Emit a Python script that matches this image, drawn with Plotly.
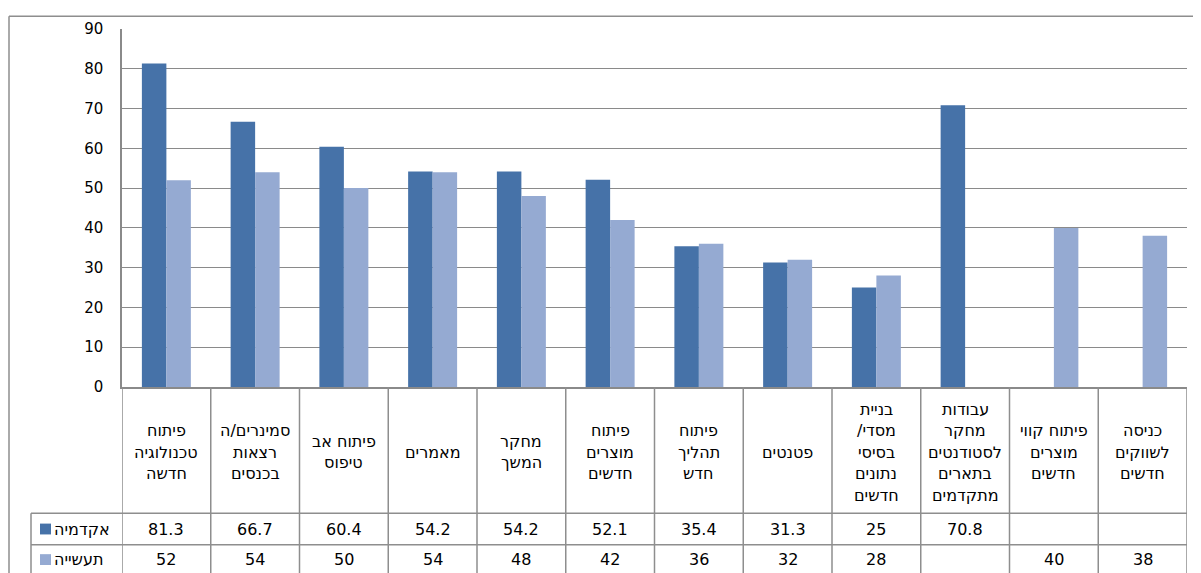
import plotly.graph_objects as go

categories = [
    "פיתוח<br>טכנולוגיה<br>חדשה",
    "סמינרים/ה<br>רצאות<br>בכנסים",
    "פיתוח אב<br>טיפוס",
    "מאמרים",
    "מחקר<br>המשך",
    "פיתוח<br>מוצרים<br>חדשים",
    "פיתוח<br>תהליך<br>חדש",
    "פטנטים",
    "בניית<br>/מסדי<br>בסיסי<br>נתונים<br>חדשים",
    "עבודות<br>מחקר<br>לסטודנטים<br>בתארים<br>מתקדמים",
    "פיתוח קווי<br>מוצרים<br>חדשים",
    "כניסה<br>לשווקים<br>חדשים",
]
series_names = ["אקדמיה", "תעשייה"]
academy = [81.3, 66.7, 60.4, 54.2, 54.2, 52.1, 35.4, 31.3, 25, 70.8, None, None]
industry = [52, 54, 50, 54, 48, 42, 36, 32, 28, None, 40, 38]
y_ticks = [0, 10, 20, 30, 40, 50, 60, 70, 80, 90]

C_DARK = "#4672A8"
C_LIGHT = "#95AAD2"
GRID = "#8A8A8A"
LINE = "#8E8E8E"
FONT = "DejaVu Sans"

# page geometry (the page body has an 8px margin)
OFF = 8
PW, PH = 1201, 573
L, R, T, B = 122, 1187, 24, 387
LABEL_CY, LABEL_LH = 453, 21.8


def px_x(px):
    return (px - L) / (R - L)


def px_y(py):
    return (B - py) / (B - T)


fig = go.Figure()
fig.add_trace(go.Bar(x=categories, y=academy, name=series_names[0],
                     marker=dict(color=C_DARK, line=dict(width=0))))
fig.add_trace(go.Bar(x=categories, y=industry, name=series_names[1],
                     marker=dict(color=C_LIGHT, line=dict(width=0))))

shapes = []
annotations = []

# outer chart border (left and top)
shapes.append(dict(type="line", xref="paper", yref="paper",
                   x0=px_x(9), x1=px_x(9), y0=px_y(11), y1=px_y(600),
                   line=dict(color=LINE, width=1.5)))
shapes.append(dict(type="line", xref="paper", yref="paper",
                   x0=px_x(9), x1=px_x(1230), y0=px_y(11), y1=px_y(11),
                   line=dict(color=LINE, width=1.5)))

# table vertical lines at category boundaries
for i in range(len(categories) + 1):
    shapes.append(dict(type="line", xref="x", yref="paper",
                       x0=i - 0.5, x1=i - 0.5, y0=0, y1=px_y(600),
                       line=dict(color=LINE, width=1.5)))
# legend column left line
shapes.append(dict(type="line", xref="paper", yref="paper",
                   x0=px_x(31), x1=px_x(31), y0=px_y(515), y1=px_y(600),
                   line=dict(color=LINE, width=1.5)))
# row lines
for ry in (515, 547):
    shapes.append(dict(type="line", xref="paper", yref="paper",
                       x0=px_x(31), x1=1, y0=px_y(ry), y1=px_y(ry),
                       line=dict(color=LINE, width=1.5)))

# category labels: one text element per line
for i, c in enumerate(categories):
    lines = c.split("<br>")
    n = len(lines)
    for k, ln in enumerate(lines):
        cy = LABEL_CY + (k - (n - 1) / 2) * LABEL_LH
        annotations.append(dict(x=i, xref="x", y=px_y(cy), yref="paper",
                                text=ln, showarrow=False, xanchor="center",
                                yanchor="middle",
                                font=dict(family=FONT, size=16, color="black")))

# legend keys + value rows
rows = [(academy, C_DARK, 531), (industry, C_LIGHT, 562)]
for (vals, col, cy), name in zip(rows, series_names):
    shapes.append(dict(type="rect", xref="paper", yref="paper",
                       x0=px_x(40), x1=px_x(51), y0=px_y(cy - 5.5), y1=px_y(cy + 5.5),
                       fillcolor=col, line=dict(width=0)))
    annotations.append(dict(x=px_x(52), xref="paper", y=px_y(cy), yref="paper",
                            text=name, showarrow=False, xanchor="left", yanchor="middle",
                            font=dict(family=FONT, size=16, color="black")))
    for i, v in enumerate(vals):
        if v is None:
            continue
        annotations.append(dict(x=i, xref="x", y=px_y(cy), yref="paper",
                                text=f"{v:g}", showarrow=False, xanchor="center",
                                yanchor="middle",
                                font=dict(family=FONT, size=16, color="black")))

fig.update_layout(
    width=PW - OFF, height=PH - OFF,
    margin=dict(l=L - OFF, r=PW - R, t=T - OFF, b=PH - B, pad=0),
    paper_bgcolor="white", plot_bgcolor="white",
    barmode="group", bargap=0.448, bargroupgap=0,
    showlegend=False,
    shapes=shapes, annotations=annotations,
    font=dict(family=FONT, size=15, color="black"),
    xaxis=dict(showticklabels=False, showgrid=False, zeroline=False,
               showline=True, linecolor=GRID, linewidth=2, ticks="",
               range=[-0.5, len(categories) - 0.5]),
    yaxis=dict(range=[0, 90], tickvals=y_ticks, showgrid=True, gridcolor=GRID,
               gridwidth=1, zeroline=False, showline=True, linecolor=GRID,
               linewidth=1.5, ticks="", ticklabelstandoff=14,
               tickfont=dict(family=FONT, size=15, color="black")),
)

fig.write_html("out.html")
